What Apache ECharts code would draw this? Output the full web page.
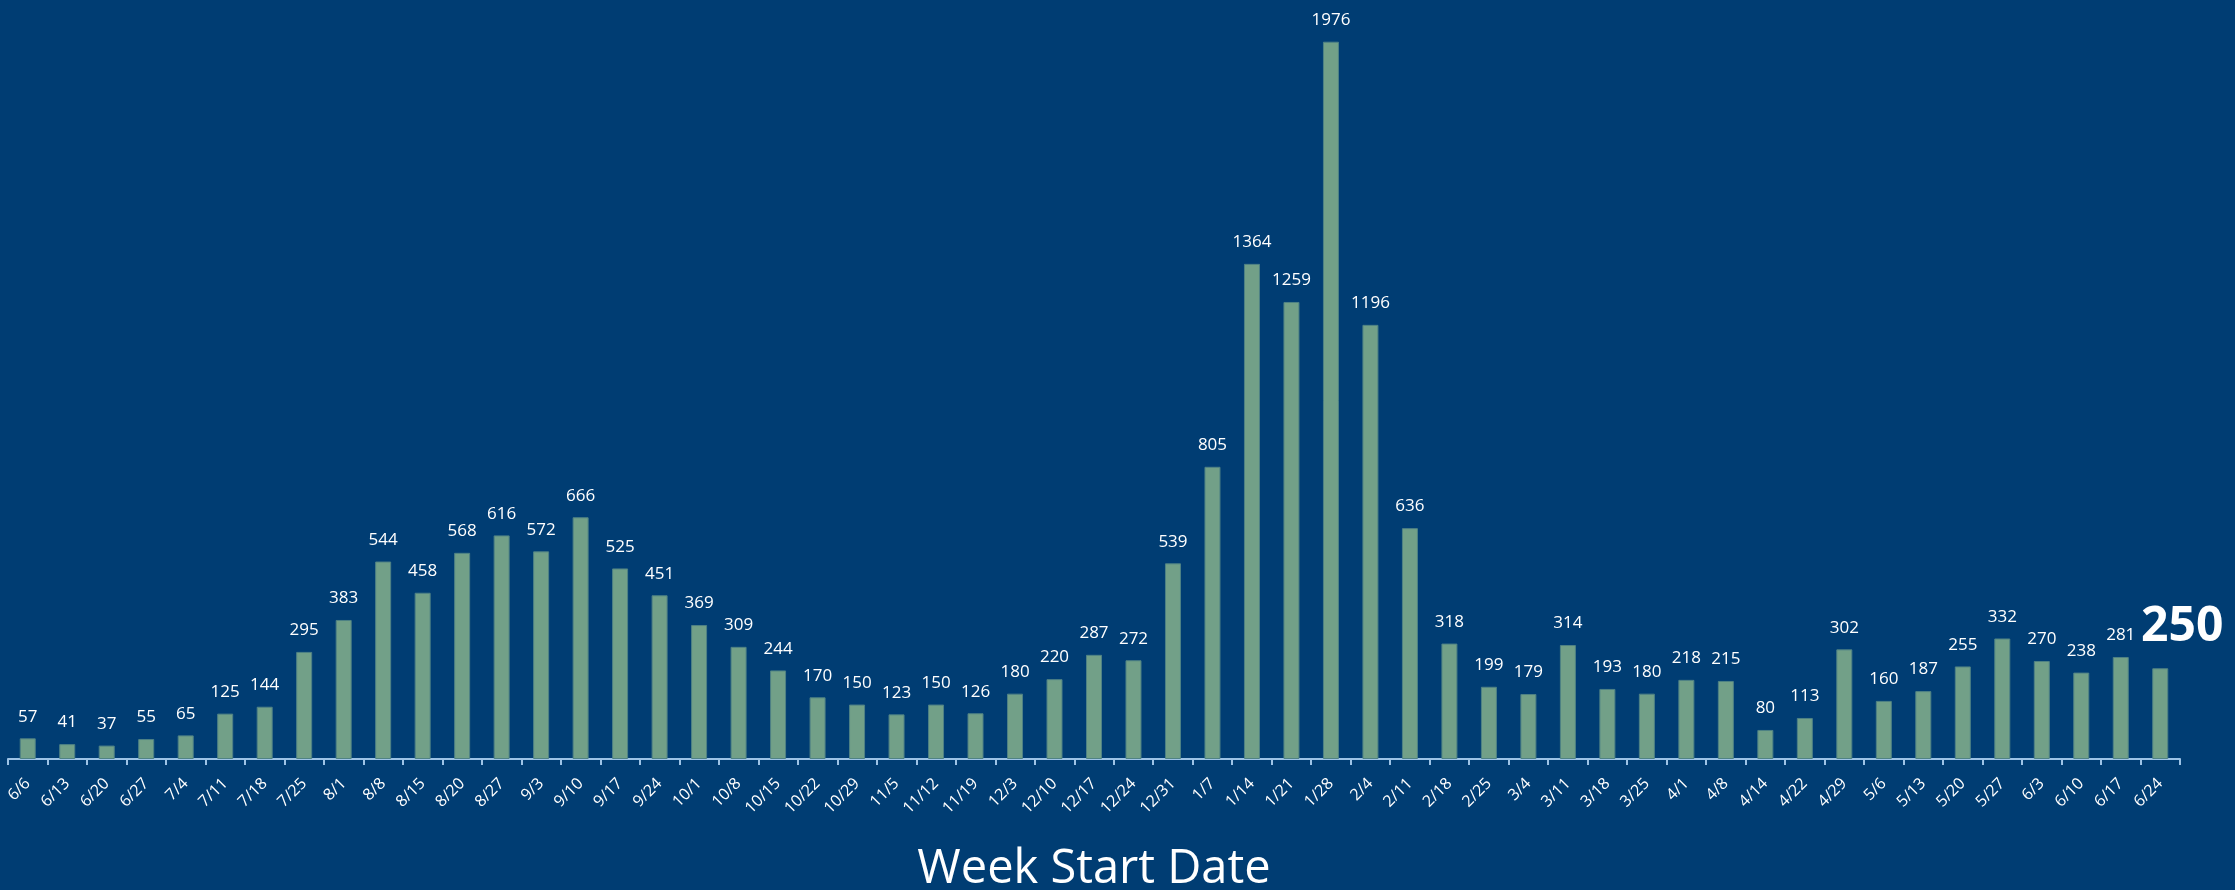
<!DOCTYPE html>
<html><head><meta charset="utf-8">
<script src="https://cdn.jsdelivr.net/npm/echarts@6/dist/echarts.min.js"></script>
<style>html,body{margin:0;padding:0;background:#003d73}#c{width:2235px;height:890px}</style>
</head><body><div id="c"></div>
<script>
const categories = ['6/6','6/13','6/20','6/27','7/4','7/11','7/18','7/25','8/1','8/8','8/15','8/20','8/27','9/3','9/10','9/17','9/24','10/1','10/8','10/15','10/22','10/29','11/5','11/12','11/19','12/3','12/10','12/17','12/24','12/31','1/7','1/14','1/21','1/28','2/4','2/11','2/18','2/25','3/4','3/11','3/18','3/25','4/1','4/8','4/14','4/22','4/29','5/6','5/13','5/20','5/27','6/3','6/10','6/17','6/24'];
const values = [57,41,37,55,65,125,144,295,383,544,458,568,616,572,666,525,451,369,309,244,170,150,123,150,126,180,220,287,272,539,805,1364,1259,1976,1196,636,318,199,179,314,193,180,218,215,80,113,302,160,187,255,332,270,238,281,250];
const axisTitle = 'Week Start Date';

const FONT = '"Open Sans", "Noto Sans", sans-serif';
const lastIdx = values.length - 1;
const data = values.map((v, i) => i === lastIdx ? {
  value: v,
  label: { show: true, position: 'top', offset: [22, -17], fontSize: 48, fontWeight: 'bold', color: '#ffffff', distance: 0 }
} : v);

const chart = echarts.init(document.getElementById('c'));
chart.setOption({
  backgroundColor: '#003d73',
  animation: false,
  grid: { left: 8, right: 55, top: 33, bottom: 131, outerBoundsMode: 'none', containLabel: false },
  xAxis: {
    type: 'category',
    data: categories,
    boundaryGap: true,
    axisLine: { show: true, lineStyle: { color: '#9dc3e6', width: 2 } },
    axisTick: { show: true, alignWithLabel: false, length: 6, lineStyle: { color: '#9dc3e6', width: 2 } },
    axisLabel: { interval: 0, rotate: 45, color: '#ffffff', fontSize: 16, fontFamily: FONT, margin: 22 }
  },
  yAxis: {
    type: 'value', min: 0, max: 2000,
    show: false,
    splitLine: { show: false }
  },
  series: [{
    type: 'bar',
    data: data,
    barWidth: 16,
    itemStyle: { color: '#72a088', borderColor: '#4f8285', borderWidth: 1 },
    label: { show: true, position: 'top', distance: 13, color: '#ffffff', fontSize: 17, fontFamily: FONT }
  }],
  graphic: [{
    type: 'text',
    x: 1094, y: 846,
    style: { text: axisTitle, fill: '#ffffff', fontSize: 47, fontFamily: FONT, align: 'center', verticalAlign: 'top' }
  }]
});
</script></body></html>
